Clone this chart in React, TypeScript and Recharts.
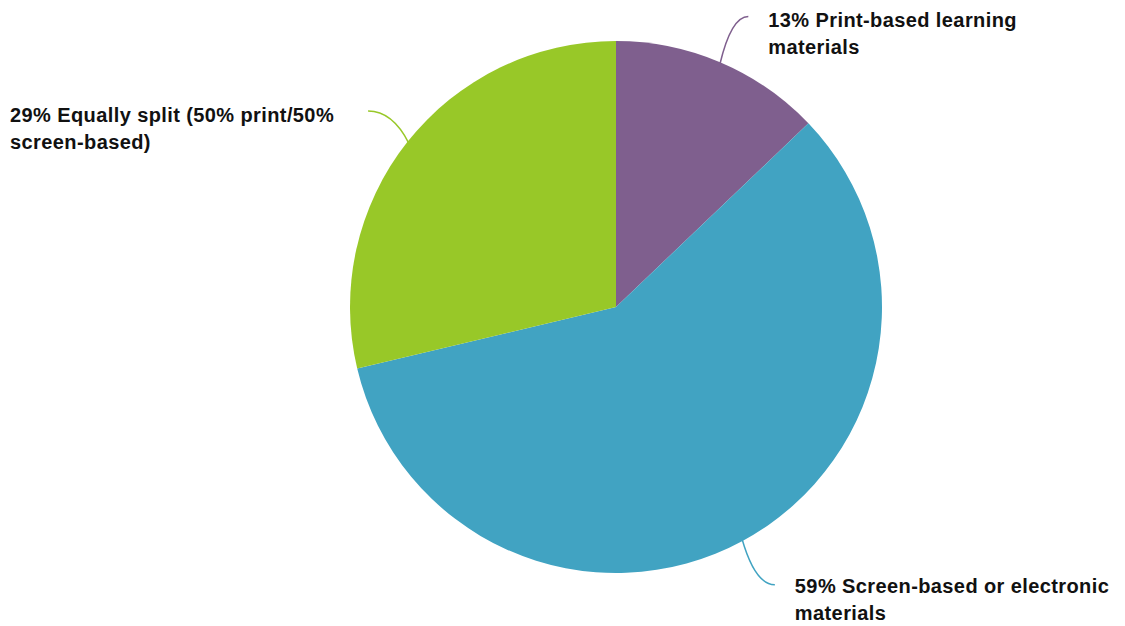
import { PieChart, Pie, Cell } from "recharts";

const categories = [
  "Print-based learning materials",
  "Screen-based or electronic materials",
  "Equally split (50% print/50% screen-based)",
];
const shares = [13, 59, 29];
const colors = ["#7f5f8e", "#41a3c2", "#98c828"];

const data = categories.map((name, i) => ({ name, value: shares[i] }));

const RAD = Math.PI / 180;

// greedy word wrap by character count
function wrap(text: string, max: number) {
  const lines: string[] = [];
  let cur = "";
  for (const w of text.split(" ")) {
    const next = cur ? cur + " " + w : w;
    if (next.length > max && cur) {
      lines.push(cur);
      cur = w;
    } else cur = next;
  }
  if (cur) lines.push(cur);
  return lines;
}

function renderLabel(props: any) {
  const { cx, cy, midAngle, outerRadius, index, value, name } = props;
  const cos = Math.cos(-midAngle * RAD);
  const sin = Math.sin(-midAngle * RAD);
  const right = cos >= 0;
  const sx = cx + (outerRadius - 2) * cos;
  const sy = cy + (outerRadius - 2) * sin;
  const ex = cx + (outerRadius + 50) * cos + (right ? 8 : 0);
  const ey = cy + (outerRadius + 50) * sin;
  const qx = sx + 0.4 * (ex - sx);
  const qy = ey;
  const tx = right ? ex + 20 : ex - 358;
  const ty = ey + (sin < 0 ? 11 : 8);
  const lines = wrap(`${value}% ${name}`, 32);
  return (
    <g key={`lbl-${index}`}>
      <path
        d={`M${sx},${sy} Q${qx},${qy} ${ex},${ey}`}
        stroke={colors[index]}
        strokeWidth={1.5}
        fill="none"
      />
      <text
        x={tx}
        y={ty}
        fill="#111"
        fontSize={20}
        letterSpacing={0.4}
        fontWeight="bold"
        fontFamily="'Liberation Sans', Arial, sans-serif"
        textAnchor="start"
      >
        {lines.map((l, i) => (
          <tspan key={i} x={tx} dy={i === 0 ? 0 : 27}>
            {l}
          </tspan>
        ))}
      </text>
    </g>
  );
}

export default function App() {
  return (
    <div style={{ position: "absolute", left: 0, top: 0, width: 1125, height: 626, background: "#fff" }}>
      <PieChart width={1125} height={626} margin={{ top: 0, right: 0, bottom: 0, left: 0 }}>
        <Pie
          data={data}
          dataKey="value"
          nameKey="name"
          cx={616}
          cy={307}
          outerRadius={266}
          startAngle={90}
          endAngle={-270}
          stroke="none"
          label={renderLabel}
          labelLine={false}
          isAnimationActive={false}
        >
          {data.map((d, i) => (
            <Cell key={d.name} fill={colors[i]} />
          ))}
        </Pie>
      </PieChart>
    </div>
  );
}
